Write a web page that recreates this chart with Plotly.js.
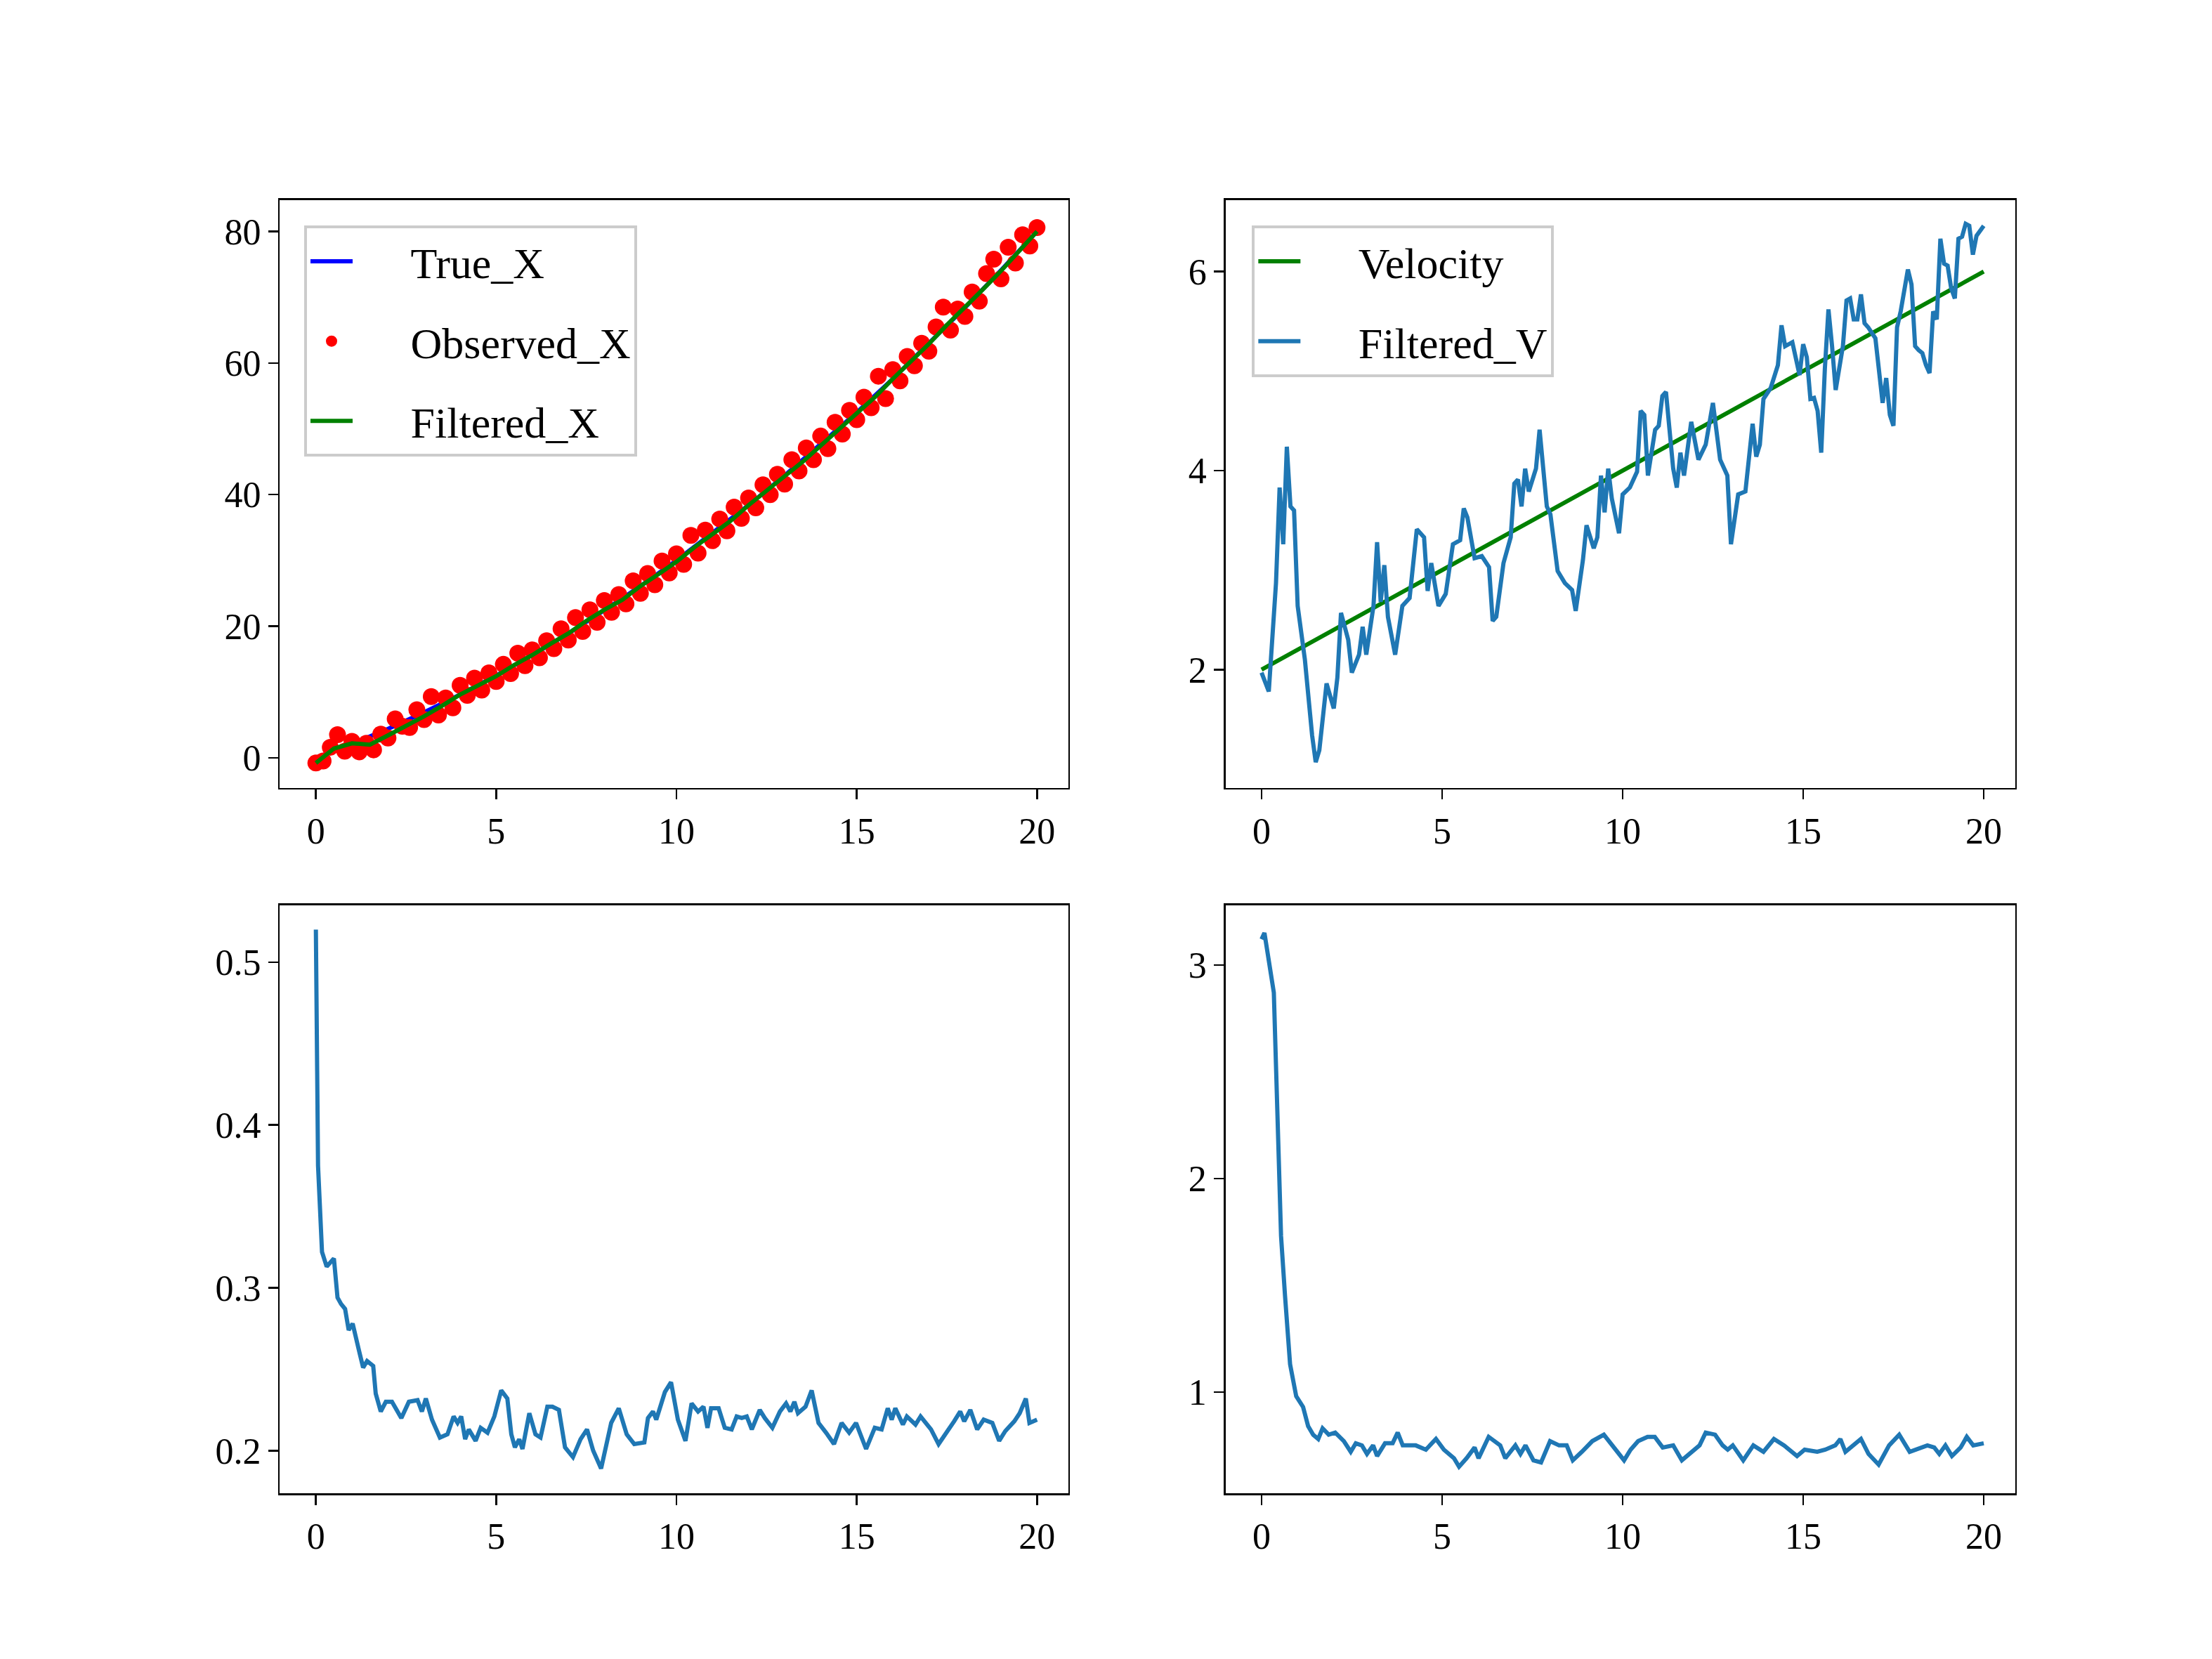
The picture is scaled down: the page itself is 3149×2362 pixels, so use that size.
<!DOCTYPE html>
<html>
<head>
<meta charset="utf-8">
<script src="https://cdn.plot.ly/plotly-3.0.1.min.js"></script>
<style>
  html, body { margin: 0; padding: 0; background: #fff; }
  #chart { width: 3149px; height: 2362px; }
</style>
</head>
<body>
<div id="chart"></div>
<script>
// position panel (top left)
const trueT = [0,1,2,3,4,5,6,7,8,9,10,11,12,13,14,15,16,17,18,19,20];
const trueX = [0,2.1,4.4,6.9,9.6,12.5,15.6,18.9,22.4,26.1,30,34.1,38.4,42.9,47.6,52.5,57.6,62.9,68.4,74.1,80];

const obsT = [0,0.2,0.4,0.6,0.8,1,1.2,1.4,1.6,1.8,2,2.2,2.4,2.6,2.8,3,3.2,3.4,3.6,3.8,4,4.2,4.4,4.6,4.8,5,5.2,5.4,5.6,5.8,6,6.2,6.4,6.6,6.8,7,7.2,7.4,7.6,7.8,8,8.2,8.4,8.6,8.8,9,9.2,9.4,9.6,9.8,10,10.2,10.4,10.6,10.8,11,11.2,11.4,11.6,11.8,12,12.2,12.4,12.6,12.8,13,13.2,13.4,13.6,13.8,14,14.2,14.4,14.6,14.8,15,15.2,15.4,15.6,15.8,16,16.2,16.4,16.6,16.8,17,17.2,17.4,17.6,17.8,18,18.2,18.4,18.6,18.8,19,19.2,19.4,19.6,19.8,20];
const obsX = [-0.8,-0.5,1.6,3.5,1.0,2.5,0.9,2.2,1.2,3.6,3.0,5.9,4.8,4.6,7.3,5.8,9.3,6.5,9.1,7.6,11.0,9.5,12.1,10.3,12.9,11.6,14.2,12.8,15.9,14.0,16.4,15.2,17.8,16.6,19.6,17.9,21.3,19.2,22.5,20.6,23.9,22.1,24.8,23.4,26.9,25.0,28.0,26.3,29.9,28.1,31.0,29.4,33.8,31.1,34.6,33.0,36.3,34.5,38.1,36.4,39.5,38.0,41.5,40.0,43.1,41.6,45.3,43.6,47.1,45.3,48.9,47.0,51.0,49.2,52.8,51.4,54.8,53.2,58.0,54.6,59.0,57.3,61.0,59.6,63.0,61.8,65.5,68.5,65.0,68.2,67.1,70.8,69.4,73.6,75.8,72.8,77.6,75.2,79.5,77.8,80.6];

const filtXT = [0,0.5,1,1.5,2,2.5,3,3.5,4,4.5,5,5.5,6,6.5,7,7.5,8,8.5,9,9.5,10,10.5,11,11.5,12,12.5,13,13.5,14,14.5,15,15.5,16,16.5,17,17.5,18,18.5,19,19.5,20];
const filtX = [-0.8,1.4,2.2,2.0,3.4,4.8,6.3,7.9,9.6,11.0,12.4,14.1,15.6,17.3,18.9,20.8,22.5,24.0,26.1,27.9,29.8,32.0,34.0,36.0,38.4,40.7,42.8,45.0,47.5,49.8,52.3,54.8,57.6,60.2,62.9,65.8,68.4,71.2,74.0,77.0,80.0];

// velocity panel (top right)
const velT = [0,20];
const velV = [2,6];
const filtVT = [0,0.2,0.4,0.5,0.6,0.7,0.8,0.9,1.0,1.2,1.4,1.5,1.6,1.8,2.0,2.1,2.2,2.4,2.5,2.7,2.8,2.9,3.1,3.2,3.3,3.4,3.5,3.7,3.9,4.1,4.3,4.5,4.6,4.7,4.9,5.1,5.3,5.5,5.6,5.7,5.9,6.1,6.3,6.4,6.5,6.7,6.9,7.0,7.1,7.2,7.3,7.4,7.6,7.7,7.9,8.0,8.2,8.4,8.6,8.7,8.9,9.0,9.2,9.3,9.4,9.5,9.6,9.7,9.9,10.0,10.2,10.4,10.5,10.6,10.7,10.9,11.0,11.1,11.2,11.4,11.5,11.6,11.7,11.9,12.1,12.3,12.5,12.7,12.9,13.0,13.2,13.4,13.6,13.7,13.8,13.9,14.1,14.3,14.4,14.5,14.7,14.8,14.9,15.0,15.1,15.2,15.3,15.4,15.5,15.6,15.7,15.8,15.9,16.1,16.2,16.3,16.4,16.5,16.6,16.7,16.8,17.0,17.2,17.3,17.4,17.5,17.6,17.7,17.9,18.0,18.1,18.2,18.3,18.4,18.5,18.6,18.7,18.8,18.9,19.0,19.1,19.2,19.3,19.4,19.5,19.6,19.7,19.8,20.0];
const filtV = [1.97,1.78,2.87,3.83,3.26,4.24,3.64,3.6,2.64,2.1,1.34,1.07,1.19,1.86,1.61,1.92,2.57,2.3,1.97,2.15,2.43,2.15,2.64,3.28,2.68,3.05,2.53,2.15,2.64,2.72,3.41,3.33,2.79,3.07,2.64,2.76,3.26,3.3,3.62,3.53,3.12,3.14,3.03,2.49,2.53,3.07,3.33,3.87,3.91,3.64,4.02,3.79,4.02,4.41,3.64,3.56,2.99,2.87,2.8,2.59,3.1,3.45,3.22,3.33,3.95,3.58,4.02,3.72,3.37,3.76,3.83,3.99,4.6,4.56,3.95,4.41,4.45,4.75,4.79,4.02,3.83,4.18,3.95,4.49,4.11,4.26,4.68,4.11,3.95,3.26,3.76,3.79,4.47,4.14,4.26,4.72,4.83,5.06,5.46,5.25,5.29,5.14,4.96,5.27,5.14,4.72,4.73,4.6,4.18,5.02,5.62,5.25,4.81,5.25,5.71,5.73,5.52,5.52,5.77,5.48,5.44,5.33,4.68,4.93,4.56,4.45,5.44,5.6,6.02,5.87,5.25,5.21,5.18,5.06,4.98,5.6,5.52,6.33,6.08,6.06,5.83,5.73,6.33,6.35,6.48,6.46,6.17,6.36,6.46];

// position variance (bottom left)
const pT = [0,0.06,0.17,0.3,0.5,0.6,0.7,0.81,0.91,1.02,1.19,1.31,1.42,1.59,1.66,1.8,1.94,2.11,2.37,2.58,2.82,2.94,3.05,3.22,3.44,3.65,3.82,3.93,4.03,4.14,4.24,4.43,4.57,4.76,4.95,5.14,5.31,5.42,5.52,5.64,5.73,5.92,6.09,6.23,6.42,6.56,6.74,6.91,7.13,7.34,7.52,7.69,7.91,8.19,8.4,8.62,8.83,9.11,9.21,9.35,9.44,9.68,9.85,10.04,10.25,10.42,10.6,10.75,10.86,10.96,11.17,11.34,11.53,11.67,11.81,11.95,12.09,12.31,12.45,12.66,12.87,13.04,13.16,13.27,13.37,13.58,13.75,13.94,14.15,14.37,14.58,14.79,14.98,15.26,15.5,15.69,15.86,15.97,16.07,16.28,16.39,16.63,16.77,17.06,17.27,17.56,17.7,17.87,17.98,18.15,18.34,18.52,18.76,18.95,19.12,19.37,19.52,19.69,19.79,20];
const pV = [0.52,0.375,0.322,0.313,0.318,0.294,0.29,0.287,0.274,0.278,0.262,0.251,0.255,0.252,0.235,0.224,0.23,0.23,0.22,0.23,0.231,0.224,0.232,0.219,0.208,0.21,0.221,0.217,0.221,0.207,0.213,0.206,0.214,0.211,0.221,0.237,0.232,0.21,0.202,0.207,0.201,0.223,0.21,0.208,0.227,0.227,0.225,0.202,0.196,0.207,0.213,0.2,0.189,0.217,0.226,0.21,0.204,0.205,0.22,0.224,0.219,0.236,0.242,0.219,0.206,0.229,0.224,0.227,0.214,0.226,0.226,0.214,0.213,0.221,0.22,0.221,0.213,0.225,0.22,0.214,0.224,0.229,0.224,0.23,0.223,0.227,0.237,0.217,0.211,0.204,0.217,0.211,0.217,0.201,0.214,0.213,0.226,0.219,0.226,0.216,0.221,0.216,0.221,0.213,0.204,0.213,0.218,0.224,0.218,0.225,0.213,0.219,0.217,0.206,0.212,0.218,0.223,0.232,0.217,0.219];

// velocity variance (bottom right)
const qT = [0,0.08,0.34,0.44,0.54,0.65,0.79,0.96,1.15,1.29,1.43,1.57,1.69,1.86,2.04,2.28,2.47,2.61,2.78,2.92,3.09,3.2,3.42,3.63,3.77,3.91,4.27,4.55,4.83,5.05,5.33,5.47,5.68,5.9,6.01,6.29,6.61,6.75,7.03,7.17,7.31,7.53,7.74,7.99,8.24,8.45,8.62,8.87,9.16,9.48,9.72,10.04,10.22,10.43,10.69,10.89,11.11,11.4,11.64,11.85,12.13,12.3,12.56,12.77,12.91,13.05,13.34,13.62,13.9,14.19,14.47,14.83,15.04,15.39,15.61,15.89,16.03,16.17,16.39,16.6,16.81,17.09,17.38,17.66,17.95,18.44,18.63,18.77,18.94,19.12,19.36,19.53,19.71,20];
const qV = [3.12,3.15,2.87,2.36,1.73,1.45,1.13,0.98,0.93,0.84,0.8,0.78,0.83,0.8,0.81,0.77,0.72,0.76,0.75,0.71,0.75,0.7,0.76,0.76,0.81,0.75,0.75,0.73,0.78,0.73,0.69,0.65,0.69,0.74,0.69,0.79,0.75,0.69,0.75,0.71,0.75,0.68,0.67,0.77,0.75,0.75,0.68,0.72,0.77,0.8,0.75,0.68,0.73,0.77,0.79,0.79,0.74,0.75,0.68,0.71,0.75,0.81,0.8,0.75,0.73,0.75,0.68,0.75,0.72,0.78,0.75,0.7,0.73,0.72,0.73,0.75,0.78,0.72,0.75,0.78,0.71,0.66,0.75,0.8,0.72,0.75,0.74,0.71,0.75,0.7,0.74,0.79,0.75,0.76];

const BLUE = '#1f77b4';
const LW = 6;
const PAD = '\u00a0\u00a0\u00a0\u00a0\u00a0';

let traces = [
  {x: trueT, y: trueX, mode: 'lines', name: PAD + 'True_X', legendgroup: 'a', line: {color: 'blue', width: LW}, xaxis: 'x', yaxis: 'y', legend: 'legend'},
  {x: obsT, y: obsX, mode: 'markers', name: PAD + 'Observed_X', legendgroup: 'b', marker: {color: 'red', size: 24}, xaxis: 'x', yaxis: 'y', legend: 'legend'},
  {x: filtXT, y: filtX, mode: 'lines', name: PAD + 'Filtered_X', legendgroup: 'c', line: {color: 'green', width: LW}, xaxis: 'x', yaxis: 'y', legend: 'legend'},
  {x: velT, y: velV, mode: 'lines', name: PAD + 'Velocity', legendgroup: 'd', line: {color: 'green', width: LW}, xaxis: 'x2', yaxis: 'y2', legend: 'legend2'},
  {x: filtVT, y: filtV, mode: 'lines', name: PAD + 'Filtered_V', legendgroup: 'e', line: {color: BLUE, width: LW}, xaxis: 'x2', yaxis: 'y2', legend: 'legend2'},
  {x: pT, y: pV, mode: 'lines', line: {color: BLUE, width: LW}, xaxis: 'x3', yaxis: 'y3', showlegend: false},
  {x: qT, y: qV, mode: 'lines', line: {color: BLUE, width: LW}, xaxis: 'x4', yaxis: 'y4', showlegend: false}
];

function axis(domain, range, anchor, dtick) {
  return {
    domain: domain, range: range, anchor: anchor, dtick: dtick,
    showline: true, mirror: true, linecolor: 'black', linewidth: 2.5,
    ticks: 'outside', ticklen: 14, tickwidth: 2.5, tickcolor: 'black',
    showgrid: false, zeroline: false,
    tickfont: {family: 'Liberation Serif', size: 52, color: 'black'}
  };
}

const XL = [0.1265, 0.483], XR = [0.554, 0.911];
const YT = [0.525, 0.8795], YB = [0.0998, 0.4544];
const XR_RANGE = [-1, 20.87];

const legendStyle = {
  bgcolor: 'rgba(255,255,255,0.8)', bordercolor: '#cccccc', borderwidth: 4,
  xanchor: 'left', yanchor: 'top', tracegroupgap: 30, itemwidth: 60,
  font: {family: 'Liberation Serif', size: 62, color: 'black'}
};

let layout = {
  width: 3149, height: 2362,
  margin: {l: 0, r: 0, t: 0, b: 0},
  paper_bgcolor: 'white', plot_bgcolor: 'white',
  xaxis: axis(XL, XR_RANGE, 'y', 5),
  yaxis: axis(YT, [-4.6, 84.8], 'x', 20),
  xaxis2: axis(XR, XR_RANGE, 'y2', 5),
  yaxis2: axis(YT, [0.81, 6.72], 'x2', 2),
  xaxis3: axis(XL, XR_RANGE, 'y3', 5),
  yaxis3: axis(YB, [0.1737, 0.535], 'x3', 0.1),
  xaxis4: axis(XR, XR_RANGE, 'y4', 5),
  yaxis4: axis(YB, [0.525, 3.28], 'x4', 1),
  legend: Object.assign({x: 0.1375, y: 0.864}, legendStyle),
  legend2: Object.assign({x: 0.566, y: 0.864}, legendStyle)
};
layout.yaxis3.tickformat = '.1f';

Plotly.newPlot('chart', traces, layout, {staticPlot: true});
</script>
</body>
</html>
